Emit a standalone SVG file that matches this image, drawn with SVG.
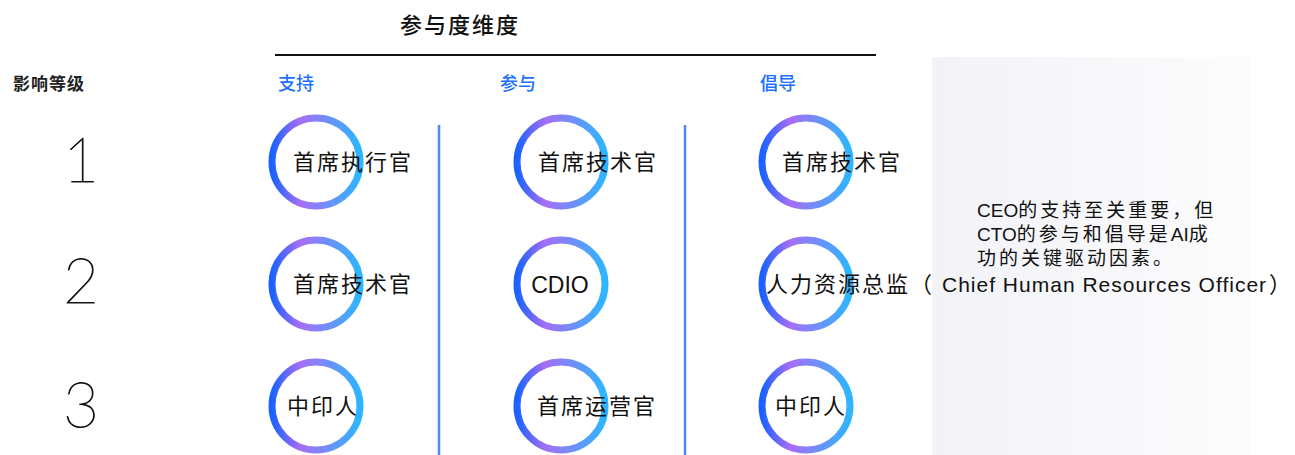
<svg xmlns="http://www.w3.org/2000/svg" width="1295" height="455" viewBox="0 0 1295 455">
  <style>
    .cj { font-family: "Noto Sans CJK SC", sans-serif; }
    .t { font-family: "Liberation Sans", "Noto Sans CJK SC", sans-serif; fill: #111; }
    .node { font-size: 22px; letter-spacing: 2px; }
    .lat { font-family: "Liberation Sans", sans-serif; letter-spacing: 1px; font-size: 21px; }
    .hdr { font-family: "Noto Sans CJK SC", sans-serif; font-size: 18px; fill: #2070ff; font-weight: 500; }
    .num { font-family: "Lato", "DejaVu Sans", sans-serif; font-weight: 100; font-size: 62px; fill: #111; stroke: #111; stroke-width: 0.9; text-anchor: middle; }
    .ring { fill: #fff; stroke: url(#ringGrad); stroke-width: 7; }
    .div { stroke: #4a8cf7; stroke-width: 2.5; }
    .note { font-size: 19px; }
    .notecj { font-family: "Noto Sans CJK SC", sans-serif; font-size: 19px; letter-spacing: 3px; }
  </style>
  <defs>
    <linearGradient id="ringGrad" x1="0" y1="0" x2="1" y2="0">
      <stop offset="0" stop-color="#1a62ff"/>
      <stop offset="0.32" stop-color="#a66ef6"/>
      <stop offset="1" stop-color="#2db6ff"/>
    </linearGradient>
    <linearGradient id="panelGrad" x1="0" y1="0" x2="1" y2="0">
      <stop offset="0" stop-color="#f2f3f7"/>
      <stop offset="1" stop-color="#fcfcfd"/>
    </linearGradient>
  </defs>

  <!-- right panel -->
  <rect id="panel" x="932" y="57" width="318" height="398" fill="url(#panelGrad)"/>

  <!-- header -->
  <g id="header">
    <text x="400" y="33" class="cj" font-size="22" letter-spacing="2" font-weight="500" fill="#111">参与度维度</text>
    <line x1="275" y1="55" x2="876" y2="55" stroke="#111" stroke-width="2"/>
    <text x="13" y="90" class="cj" font-size="17" font-weight="700" fill="#222" letter-spacing="1">影响等级</text>
    <text x="278" y="90" class="hdr">支持</text>
    <text x="500" y="90" class="hdr">参与</text>
    <text x="760" y="90" class="hdr">倡导</text>
  </g>

  <!-- level numbers -->
  <g id="levels">
    <text x="81" y="182" class="num">1</text>
    <text x="81" y="303" class="num">2</text>
    <text x="81" y="427" class="num">3</text>
  </g>

  <!-- column dividers -->
  <g id="connectors">
    <line x1="439" y1="125" x2="439" y2="455" class="div"/>
    <line x1="685" y1="125" x2="685" y2="455" class="div"/>
  </g>

  <!-- column 1 -->
  <g id="n-support-1">
    <circle cx="316" cy="162" r="44" class="ring"/>
    <text x="293" y="170" class="t cj node">首席执行官</text>
  </g>
  <g id="n-support-2">
    <circle cx="316" cy="284" r="44" class="ring"/>
    <text x="293" y="292" class="t cj node">首席技术官</text>
  </g>
  <g id="n-support-3">
    <circle cx="316" cy="406" r="44" class="ring"/>
    <text x="287" y="414" class="t cj node">中印人</text>
  </g>

  <!-- column 2 -->
  <g id="n-engage-1">
    <circle cx="561" cy="162" r="44" class="ring"/>
    <text x="538" y="170" class="t cj node">首席技术官</text>
  </g>
  <g id="n-engage-2">
    <circle cx="561" cy="284" r="44" class="ring"/>
    <text x="560" y="293" class="t" font-size="23" text-anchor="middle">CDIO</text>
  </g>
  <g id="n-engage-3">
    <circle cx="561" cy="406" r="44" class="ring"/>
    <text x="537" y="414" class="t cj node">首席运营官</text>
  </g>

  <!-- column 3 -->
  <g id="n-advocate-1">
    <circle cx="806" cy="162" r="44" class="ring"/>
    <text x="782" y="170" class="t cj node">首席技术官</text>
  </g>
  <g id="n-advocate-2">
    <circle cx="806" cy="284" r="44" class="ring"/>
    <text x="766" y="292" class="t node"><tspan class="cj">人力资源总监（</tspan><tspan class="lat" dx="8">Chief Human Resources Officer</tspan><tspan class="cj" dx="2">）</tspan></text>
  </g>
  <g id="n-advocate-3">
    <circle cx="806" cy="406" r="44" class="ring"/>
    <text x="775" y="414" class="t cj node">中印人</text>
  </g>

  <!-- note -->
  <g id="note">
    <text x="977" y="217" class="t note"><tspan x="977" y="217">CEO</tspan><tspan class="notecj">的支持至关重要，但</tspan><tspan x="977" y="241">CTO</tspan><tspan class="notecj">的参与和倡导是</tspan><tspan>AI</tspan><tspan class="notecj">成</tspan><tspan x="977" y="265" class="notecj">功的关键驱动因素。</tspan></text>
  </g>
</svg>
